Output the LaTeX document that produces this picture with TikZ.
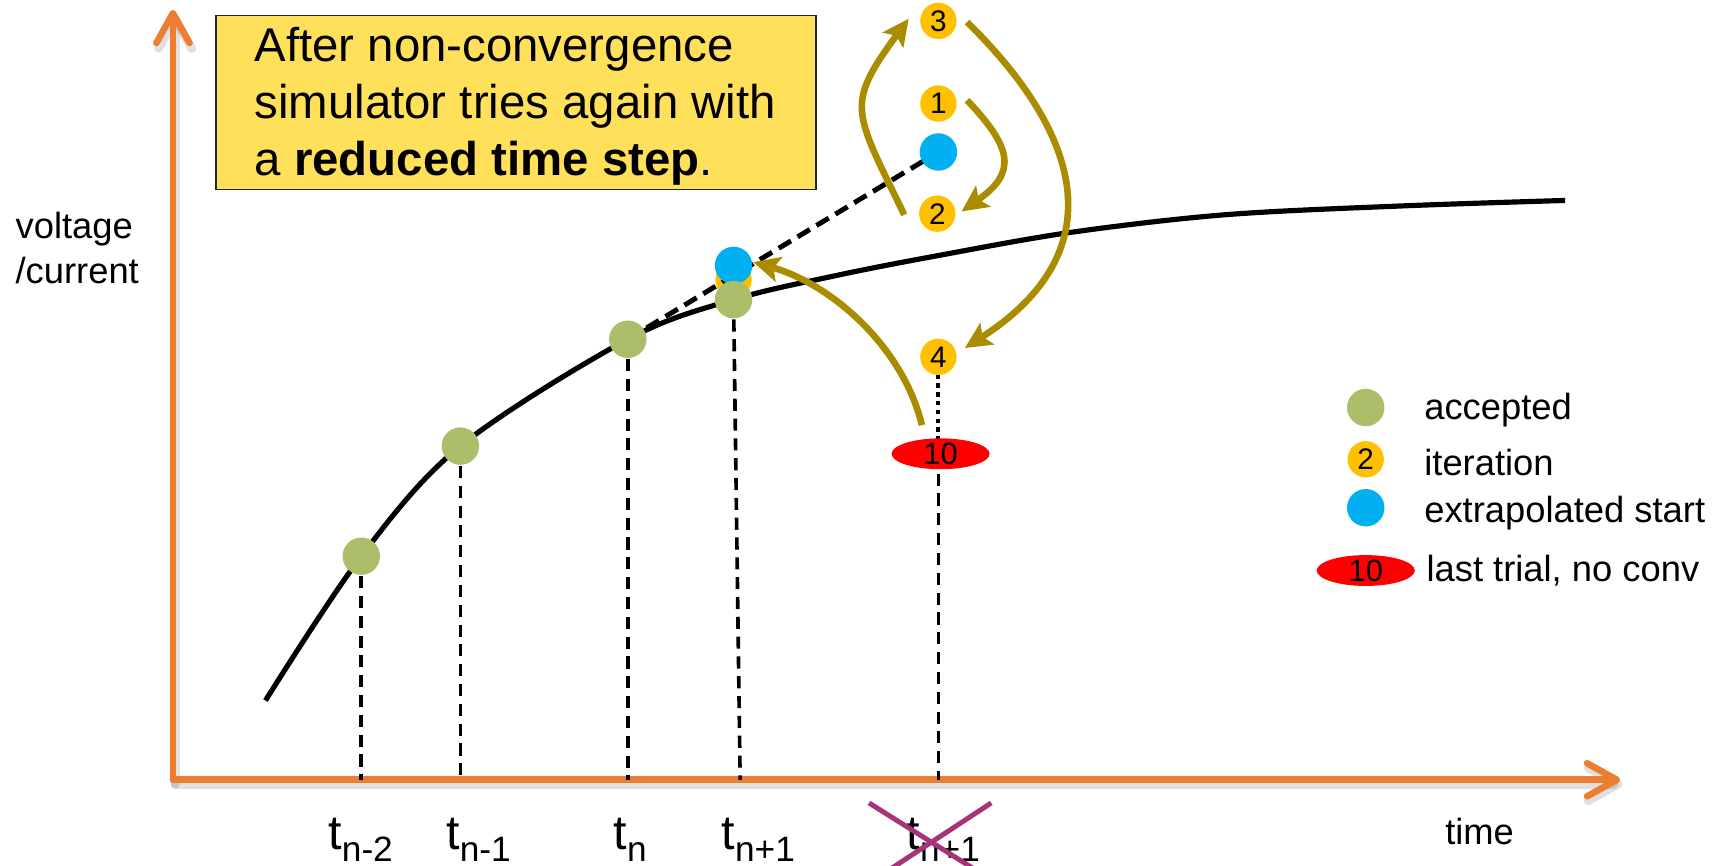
\documentclass[tikz,border=0pt]{standalone}
\usepackage{fontspec}
\setmainfont{Liberation Sans}
\usetikzlibrary{arrows.meta,shapes.geometric}
\definecolor{axisor}{RGB}{237,125,49}
\definecolor{olivearr}{RGB}{170,140,0}
\definecolor{itery}{RGB}{255,192,0}
\definecolor{extb}{RGB}{0,176,240}
\definecolor{accg}{RGB}{173,190,107}
\definecolor{boxy}{RGB}{255,224,90}
\definecolor{crossp}{RGB}{165,52,120}
\newcommand\fsz[2]{\fontsize{#1}{#2}\selectfont}
\begin{document}
\begin{tikzpicture}[x=1pt,y=-1pt,
  axisline/.style={draw=axisor, line width=6pt, line cap=round,
    -{Straight Barb[length=27pt,width=30pt,round]}},
  shadowline/.style={draw=black, opacity=0.12, line width=8pt, line cap=round,
    -{Straight Barb[length=27pt,width=30pt,round]}},
  curveline/.style={draw=black, line width=4.7pt},
  vdash/.style={draw=black, line width=3.3pt, dash pattern=on 11pt off 7pt},
  xdash/.style={draw=black, line width=4.5pt, dash pattern=on 13pt off 7pt},
  vdot/.style={draw=black, line width=3.5pt, dash pattern=on 4pt off 4pt},
  acc/.style={circle, fill=accg, minimum size=34pt, inner sep=0pt},
  ext/.style={circle, fill=extb, minimum size=34pt, inner sep=0pt},
  iter/.style={circle, fill=itery, minimum size=33pt, inner sep=0pt, font=\fsz{27}{27}},
  lastt/.style={ellipse, fill=red, minimum width=89pt, minimum height=26pt, inner sep=0pt, font=\fsz{28}{28}},
  olarr/.style={draw=olivearr, line width=6pt, -{Stealth[length=24pt,width=23pt,inset=5pt]}},
  crossl/.style={draw=crossp, line width=4.5pt},
  notebox/.style={draw=black!85, line width=1.3pt, fill=boxy, minimum width=545pt, minimum height=158pt, inner sep=0pt},
  lbl/.style={inner sep=0pt, font=\fsz{33}{41}, align=left},
  tlbl/.style={inner sep=0pt, anchor=base west}
]
\useasboundingbox (0,0) rectangle (1568,786);

% axes
\coordinate (O) at (157,708);
\coordinate (ytip) at (157,9);
\coordinate (xtip) at (1471,708);
\draw[shadowline] ([shift={(2,4)}]O) -- ([shift={(2,4)}]ytip);
\draw[shadowline] ([shift={(2,4)}]O) -- ([shift={(2,4)}]xtip);
\draw[axisline] (O) -- (ytip);
\draw[axisline] (O) -- (xtip);

% curve
\draw[curveline] plot[smooth, tension=0.55] coordinates {(241,636) (328,505) (418,405) (570,308) (666,272) (760,250) (852,232) (972,211) (1112,195) (1272,187) (1421,182)};

% point coordinates
\coordinate (pA) at (328,505);
\coordinate (pB) at (418,405);
\coordinate (pC) at (570,308);
\coordinate (pD) at (666,272);
\coordinate (pE) at (852,412);
\coordinate (pF) at (852,324);
\coordinate (tkD) at (672,708);

% vertical drop lines
\draw[vdash] (pA) -- (pA |- O);
\draw[vdash] (pB) -- (pB |- O);
\draw[vdash] (pC) -- (pC |- O);
\draw[vdash] (pD) -- (tkD);
\draw[vdash] (pE) -- (pE |- O);
\draw[vdot] (pF) -- (pE);

% hidden iteration point at t_{n+1}
\node[iter] (yhid) at (666,254) {};

% extrapolation
\coordinate (pT) at (852,138);
\draw[xdash] (pC) -- (pT);

% points
\node[ext] (bn) at (666,241) {};
\node[acc] (gn1) at (pD) {};
\node[acc] (gn) at (pC) {};
\node[acc] (gm1) at (pB) {};
\node[acc] (gm2) at (pA) {};
\node[ext] (bt) at (pT) {};
\node[iter] (n3) at (852,19) {3};
\node[iter] (n1) at (852,94) {1};
\node[iter] (n2) at (851,194) {2};
\node[iter] (n4) at (pF) {4};
\node[lastt] (n10) at (854,412) {10};

% iteration arrows
\draw[olarr] ([shift={(-30,1)}]n2.center) .. controls (775,100) and (767,96) .. ([shift={(-27,-2)}]n3.center);
\draw[olarr] ([shift={(26,-3)}]n1.center) .. controls (920,135) and (923,157) .. ([shift={(22,-2)}]n2.center);
\draw[olarr] ([shift={(26,1)}]n3.center) .. controls (985,125) and (1010,230) .. ([shift={(24,-8)}]n4.center);
\draw[olarr] ([shift={(-17,-26)}]n10.center) .. controls (820,315) and (755,258) .. ([shift={(18,-3)}]bn.center);

% note box
\node[notebox] (box) at (468.5,93) {};
\node[inner sep=0pt, anchor=north west, align=left, font=\fsz{43}{51.5}] (boxtxt) at (231,24.7)
  {After non-convergence\\simulator tries again with\\a \textbf{reduced time step}.};

% axis labels
\node[lbl, anchor=north west] (ylab) at (14,192.4) {voltage\\/current};
\node[lbl, anchor=base west] (xlab) at (1312,767) {time};

% time labels
\node[tlbl] (t1) at (298,771) {\fsz{44}{44}t\raisebox{-11pt}{\fsz{32}{32}n-2}};
\node[tlbl] (t2) at (405,771) {\fsz{44}{44}t\raisebox{-11pt}{\fsz{32}{32}n-1}};
\node[tlbl] (t3) at (557,771) {\fsz{44}{44}t\raisebox{-11pt}{\fsz{32}{32}n}};
\node[tlbl] (t4) at (655,771) {\fsz{44}{44}t\raisebox{-11pt}{\fsz{32}{32}n+1}};
\node[tlbl] (t5) at (823,771) {\fsz{44}{44}t\raisebox{-11pt}{\fsz{32}{32}n+1}};
\draw[crossl] (789,729) -- (886,790);
\draw[crossl] (900,729) -- (807,790);

% legend
\node[acc] (lg1) at (1240,370) {};
\node[iter] (lg2) at (1240,417) {2};
\node[ext] (lg3) at (1240,461) {};
\node[lastt, minimum height=27pt] (lg4) at (1240,518) {10};
\node[lbl, anchor=base west] (lt1) at (1293,381) {accepted};
\node[lbl, anchor=base west] (lt2) at (1293,432) {iteration};
\node[lbl, anchor=base west] (lt3) at (1293,474) {extrapolated start};
\node[lbl, anchor=base west] (lt4) at (1295,528) {last trial, no conv};
\end{tikzpicture}
\end{document}
